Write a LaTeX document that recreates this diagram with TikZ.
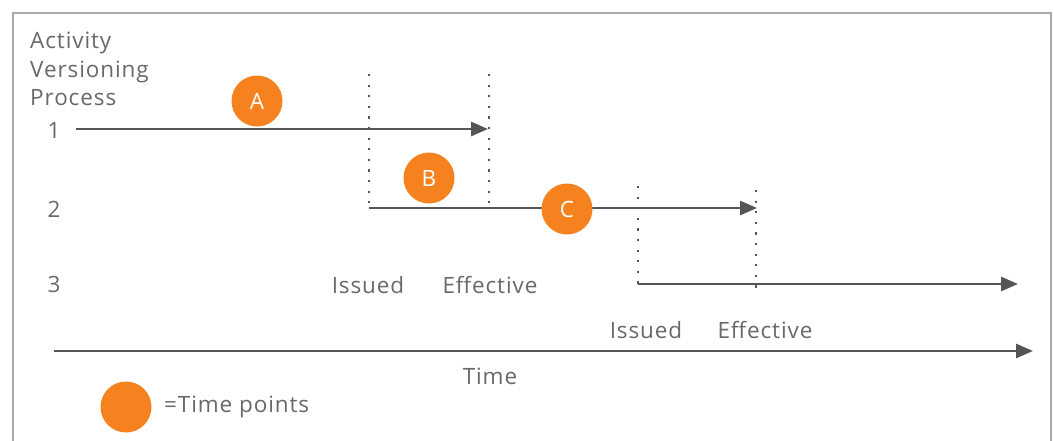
\documentclass[tikz,border=0pt]{standalone}
\usepackage{fontspec}
\setmainfont{Open Sans}[LetterSpace=4]
\usetikzlibrary{arrows.meta}
\definecolor{lin}{HTML}{545557}
\definecolor{txt}{HTML}{68696B}
\definecolor{org}{HTML}{F5821F}
\definecolor{frm}{HTML}{A7A9AC}
\tikzset{
  tl/.style={draw=lin, line width=2.8pt, -{Triangle[length=17pt,width=14pt]}},
  pl/.style={draw=lin, line width=2.8pt},
  dl/.style={draw=lin, line width=2.2pt, dash pattern=on 2.2pt off 8.4pt},
  tp/.style={circle, fill=org, minimum size=51pt, inner sep=0pt, text=white, font=\fontsize{22.5}{26}\selectfont},
  lb/.style={text=txt, font=\fontsize{22.5}{26}\selectfont, inner sep=0pt},
}
\begin{document}
\begin{tikzpicture}[x=1pt,y=-1pt]
\useasboundingbox (0,0) rectangle (1054,440);
\draw[frm, line width=1.3pt] (13,445) -- (13,13) -- (1051,13) -- (1051,445);
\node[lb, anchor=west, align=left] (title) at (30,69) {Activity\\[2.5pt]Versioning\\[2.5pt]Process};
\node[lb] (n1) at (54,130) {1};
\node[lb] (n2) at (54,209) {2};
\node[lb] (n3) at (54,284) {3};
% coordinates
\coordinate (a1s) at (76,129);
\coordinate (a1e) at (488,129);
\coordinate (a2s) at (369,208);
\coordinate (a2e) at (757,208);
\coordinate (a3s) at (638,284);
\coordinate (a3e) at (1018,284);
\coordinate (ts) at (54,351);
\coordinate (te) at (1033,351);
\coordinate (d1t) at (369,74);
\coordinate (d1b) at (369,207);
\coordinate (d2t) at (489,74);
\coordinate (d2b) at (489,207);
\coordinate (d3t) at (638,186);
\coordinate (d3b) at (638,284);
\coordinate (d4t) at (756,190);
\coordinate (d4b) at (756,288);
\draw[dl] (d1t) -- (d1b);
\draw[dl] (d2t) -- (d2b);
\draw[dl] (d3t) -- (d3b);
\draw[dl] (d4t) -- (d4b);
\draw[tl] (a1s) -- (a1e);
\draw[tl] (a2s) -- (a2e);
\draw[tl] (a3s) -- (a3e);
\draw[tl] (ts) -- (te);
\node[tp] (A) at (257,101) {A};
\node[tp] (B) at (429,178) {B};
\node[tp] (C) at (567,209) {C};
\node[lb] (is1) at (368,285) {Issued};
\node[lb] (ef1) at (490,285) {Effective};
\node[lb] (is2) at (646,330) {Issued};
\node[lb] (ef2) at (765,330) {Effective};
\node[lb] (time) at (490,376) {Time};
\node[tp] (leg) at (126,407) {};
\node[lb, anchor=west] (legt) at (164,407) {=Time points};
\end{tikzpicture}
\end{document}
